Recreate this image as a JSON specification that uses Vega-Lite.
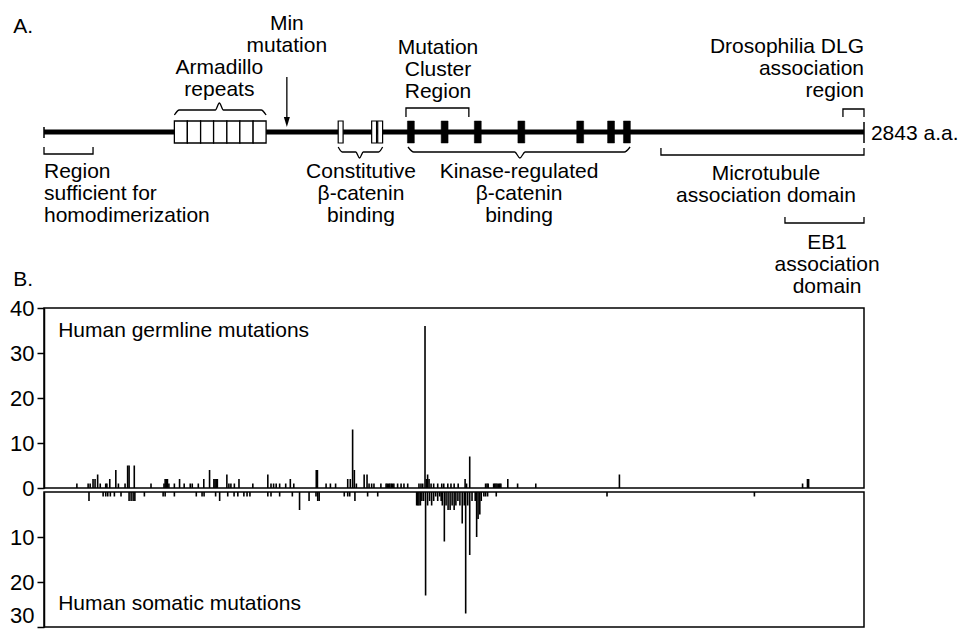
{
  "$schema": "https://vega.github.io/schema/vega-lite/v6.json",
  "width": 820,
  "height": 633,
  "autosize": {"type": "none"},
  "padding": {"left": 44, "top": 0, "right": 98, "bottom": 0},
  "background": "white",
  "config": {"view": {"stroke": null}},
  "datasets": {
    "protein": [{"start": 0, "end": 2843, "y": 132}],
    "ends": [{"pos": 0, "top": 127, "bottom": 138}, {"pos": 2843, "top": 122, "bottom": 143}],
    "armadillo": [
      {"start": 452, "end": 497, "top": 121, "bottom": 143},
      {"start": 497, "end": 543, "top": 121, "bottom": 143},
      {"start": 543, "end": 588, "top": 121, "bottom": 143},
      {"start": 588, "end": 634, "top": 121, "bottom": 143},
      {"start": 634, "end": 679, "top": 121, "bottom": 143},
      {"start": 679, "end": 725, "top": 121, "bottom": 143},
      {"start": 725, "end": 770, "top": 121, "bottom": 143}
    ],
    "repeats15": [
      {"start": 1020, "end": 1037, "top": 121, "bottom": 143},
      {"start": 1136, "end": 1153, "top": 121, "bottom": 143},
      {"start": 1157, "end": 1174, "top": 121, "bottom": 143}
    ],
    "repeats20": [
      {"start": 1260, "end": 1284, "top": 121, "bottom": 143},
      {"start": 1377, "end": 1401, "top": 121, "bottom": 143},
      {"start": 1492, "end": 1516, "top": 121, "bottom": 143},
      {"start": 1643, "end": 1667, "top": 121, "bottom": 143},
      {"start": 1847, "end": 1871, "top": 121, "bottom": 143},
      {"start": 1954, "end": 1978, "top": 121, "bottom": 143},
      {"start": 2009, "end": 2033, "top": 121, "bottom": 143}
    ],
    "minArrow": [{"pos": 842, "top": 77, "head": 122}],
    "brackets": [
      {"g": "homo", "o": 1, "pos": 0, "y": 147}, {"g": "homo", "o": 2, "pos": 0, "y": 154}, {"g": "homo", "o": 3, "pos": 170, "y": 154}, {"g": "homo", "o": 4, "pos": 170, "y": 147},
      {"g": "mcr", "o": 1, "pos": 1255, "y": 117}, {"g": "mcr", "o": 2, "pos": 1255, "y": 108}, {"g": "mcr", "o": 3, "pos": 1473, "y": 108}, {"g": "mcr", "o": 4, "pos": 1473, "y": 117},
      {"g": "dlg", "o": 1, "pos": 2770, "y": 117}, {"g": "dlg", "o": 2, "pos": 2770, "y": 109}, {"g": "dlg", "o": 3, "pos": 2843, "y": 109}, {"g": "dlg", "o": 4, "pos": 2843, "y": 117},
      {"g": "mt", "o": 1, "pos": 2139, "y": 148}, {"g": "mt", "o": 2, "pos": 2139, "y": 155}, {"g": "mt", "o": 3, "pos": 2843, "y": 155}, {"g": "mt", "o": 4, "pos": 2843, "y": 148},
      {"g": "eb1", "o": 1, "pos": 2569, "y": 217}, {"g": "eb1", "o": 2, "pos": 2569, "y": 223}, {"g": "eb1", "o": 3, "pos": 2843, "y": 223}, {"g": "eb1", "o": 4, "pos": 2843, "y": 217}
    ],
    "braces": [
      {"g": "arm", "o": 1, "pos": 452, "y": 115}, {"g": "arm", "o": 2, "pos": 469, "y": 110}, {"g": "arm", "o": 3, "pos": 594, "y": 110}, {"g": "arm", "o": 4, "pos": 608, "y": 103}, {"g": "arm", "o": 5, "pos": 622, "y": 110}, {"g": "arm", "o": 6, "pos": 753, "y": 110}, {"g": "arm", "o": 7, "pos": 770, "y": 115},
      {"g": "con", "o": 1, "pos": 1020, "y": 147}, {"g": "con", "o": 2, "pos": 1034, "y": 152}, {"g": "con", "o": 3, "pos": 1081, "y": 152}, {"g": "con", "o": 4, "pos": 1094, "y": 158}, {"g": "con", "o": 5, "pos": 1107, "y": 152}, {"g": "con", "o": 6, "pos": 1160, "y": 152}, {"g": "con", "o": 7, "pos": 1174, "y": 147},
      {"g": "kin", "o": 1, "pos": 1262, "y": 147}, {"g": "kin", "o": 2, "pos": 1282, "y": 152}, {"g": "kin", "o": 3, "pos": 1632, "y": 152}, {"g": "kin", "o": 4, "pos": 1650, "y": 158}, {"g": "kin", "o": 5, "pos": 1668, "y": 152}, {"g": "kin", "o": 6, "pos": 2012, "y": 152}, {"g": "kin", "o": 7, "pos": 2032, "y": 147}
    ],
    "labelsCenter": [
      {"label": "Min\nmutation", "pos": 842, "y": 30},
      {"label": "Armadillo\nrepeats", "pos": 608, "y": 74},
      {"label": "Mutation\nCluster\nRegion", "pos": 1366, "y": 54},
      {"label": "Constitutive\nβ-catenin\nbinding", "pos": 1099, "y": 178},
      {"label": "Kinase-regulated\nβ-catenin\nbinding", "pos": 1647, "y": 178},
      {"label": "Microtubule\nassociation domain", "pos": 2503, "y": 180},
      {"label": "EB1\nassociation\ndomain", "pos": 2715, "y": 249}
    ],
    "labelsLeft": [
      {"label": "A.", "pos": -107, "y": 33},
      {"label": "Region\nsufficient for\nhomodimerization", "pos": 0, "y": 178},
      {"label": "2843 a.a.", "pos": 2867, "y": 140},
      {"label": "B.", "pos": -107, "y": 286},
      {"label": "Human germline mutations", "pos": 49, "y": 337},
      {"label": "Human somatic mutations", "pos": 49, "y": 610}
    ],
    "labelsRight": [
      {"label": "Drosophilia DLG\nassociation\nregion", "pos": 2843, "y": 53}
    ],
    "germlineFrame": [{"start": 0, "end": 2843, "lo": 0, "hi": 40}],
    "somaticFrame": [{"start": 0, "end": 2843, "lo": 0, "hi": 30}],
    "germline": [
      {"pos": 114, "count": 1}, {"pos": 153, "count": 1}, {"pos": 160, "count": 1}, {"pos": 170, "count": 2}, {"pos": 177, "count": 2}, {"pos": 186, "count": 3}, {"pos": 195, "count": 1}, {"pos": 214, "count": 1}, {"pos": 218, "count": 1}, {"pos": 228, "count": 2}, {"pos": 249, "count": 4}, {"pos": 258, "count": 1}, {"pos": 281, "count": 1}, {"pos": 290, "count": 5}, {"pos": 295, "count": 5}, {"pos": 313, "count": 5}, {"pos": 371, "count": 1}, {"pos": 416, "count": 1}, {"pos": 420, "count": 2}, {"pos": 424, "count": 2}, {"pos": 428, "count": 2}, {"pos": 433, "count": 1}, {"pos": 452, "count": 1}, {"pos": 470, "count": 2}, {"pos": 486, "count": 1}, {"pos": 507, "count": 1}, {"pos": 514, "count": 1}, {"pos": 535, "count": 1}, {"pos": 554, "count": 2}, {"pos": 574, "count": 4}, {"pos": 589, "count": 2}, {"pos": 593, "count": 2}, {"pos": 597, "count": 2}, {"pos": 601, "count": 2}, {"pos": 634, "count": 3}, {"pos": 641, "count": 1}, {"pos": 648, "count": 1}, {"pos": 660, "count": 1}, {"pos": 676, "count": 2}, {"pos": 724, "count": 1}, {"pos": 776, "count": 3}, {"pos": 787, "count": 1}, {"pos": 796, "count": 1}, {"pos": 805, "count": 1}, {"pos": 817, "count": 1}, {"pos": 838, "count": 1}, {"pos": 854, "count": 2}, {"pos": 866, "count": 1}, {"pos": 944, "count": 4}, {"pos": 948, "count": 4}, {"pos": 978, "count": 1}, {"pos": 993, "count": 1}, {"pos": 1011, "count": 1}, {"pos": 1053, "count": 2}, {"pos": 1062, "count": 2}, {"pos": 1070, "count": 13}, {"pos": 1076, "count": 4}, {"pos": 1083, "count": 1}, {"pos": 1110, "count": 3}, {"pos": 1120, "count": 3}, {"pos": 1127, "count": 1}, {"pos": 1136, "count": 1}, {"pos": 1144, "count": 1}, {"pos": 1168, "count": 1}, {"pos": 1186, "count": 1}, {"pos": 1190, "count": 1}, {"pos": 1195, "count": 1}, {"pos": 1199, "count": 1}, {"pos": 1204, "count": 1}, {"pos": 1208, "count": 1}, {"pos": 1213, "count": 1}, {"pos": 1226, "count": 1}, {"pos": 1238, "count": 1}, {"pos": 1248, "count": 1}, {"pos": 1261, "count": 1}, {"pos": 1300, "count": 1}, {"pos": 1307, "count": 1}, {"pos": 1313, "count": 1}, {"pos": 1321, "count": 36}, {"pos": 1326, "count": 2}, {"pos": 1330, "count": 3}, {"pos": 1335, "count": 2}, {"pos": 1342, "count": 1}, {"pos": 1351, "count": 1}, {"pos": 1365, "count": 1}, {"pos": 1379, "count": 1}, {"pos": 1386, "count": 1}, {"pos": 1400, "count": 1}, {"pos": 1411, "count": 1}, {"pos": 1422, "count": 1}, {"pos": 1436, "count": 1}, {"pos": 1460, "count": 2}, {"pos": 1465, "count": 1}, {"pos": 1476, "count": 7}, {"pos": 1531, "count": 1}, {"pos": 1536, "count": 1}, {"pos": 1540, "count": 1}, {"pos": 1559, "count": 1}, {"pos": 1563, "count": 1}, {"pos": 1567, "count": 1}, {"pos": 1571, "count": 1}, {"pos": 1576, "count": 1}, {"pos": 1580, "count": 1}, {"pos": 1584, "count": 1}, {"pos": 1608, "count": 2}, {"pos": 1642, "count": 1}, {"pos": 1705, "count": 1}, {"pos": 1995, "count": 3}, {"pos": 2630, "count": 1}, {"pos": 2647, "count": 2}, {"pos": 2651, "count": 2}
    ],
    "somatic": [
      {"pos": 156, "count": 2}, {"pos": 205, "count": 1}, {"pos": 214, "count": 1}, {"pos": 221, "count": 1}, {"pos": 230, "count": 1}, {"pos": 244, "count": 1}, {"pos": 267, "count": 1}, {"pos": 295, "count": 2}, {"pos": 302, "count": 2}, {"pos": 309, "count": 2}, {"pos": 315, "count": 2}, {"pos": 348, "count": 1}, {"pos": 413, "count": 1}, {"pos": 420, "count": 1}, {"pos": 452, "count": 1}, {"pos": 528, "count": 1}, {"pos": 548, "count": 1}, {"pos": 555, "count": 1}, {"pos": 595, "count": 1}, {"pos": 609, "count": 2}, {"pos": 637, "count": 1}, {"pos": 659, "count": 1}, {"pos": 672, "count": 1}, {"pos": 693, "count": 1}, {"pos": 704, "count": 1}, {"pos": 714, "count": 1}, {"pos": 776, "count": 1}, {"pos": 787, "count": 1}, {"pos": 817, "count": 1}, {"pos": 861, "count": 1}, {"pos": 886, "count": 4}, {"pos": 919, "count": 2}, {"pos": 943, "count": 1}, {"pos": 949, "count": 2}, {"pos": 954, "count": 2}, {"pos": 1041, "count": 1}, {"pos": 1053, "count": 1}, {"pos": 1060, "count": 1}, {"pos": 1078, "count": 2}, {"pos": 1122, "count": 1}, {"pos": 1157, "count": 1}, {"pos": 1292, "count": 3}, {"pos": 1296, "count": 3}, {"pos": 1300, "count": 3}, {"pos": 1305, "count": 3}, {"pos": 1310, "count": 2}, {"pos": 1316, "count": 2}, {"pos": 1323, "count": 23}, {"pos": 1330, "count": 3}, {"pos": 1337, "count": 2}, {"pos": 1344, "count": 3}, {"pos": 1351, "count": 2}, {"pos": 1358, "count": 1}, {"pos": 1365, "count": 2}, {"pos": 1372, "count": 1}, {"pos": 1377, "count": 2}, {"pos": 1381, "count": 3}, {"pos": 1388, "count": 11}, {"pos": 1394, "count": 3}, {"pos": 1401, "count": 4}, {"pos": 1408, "count": 4}, {"pos": 1415, "count": 3}, {"pos": 1422, "count": 4}, {"pos": 1428, "count": 3}, {"pos": 1435, "count": 2}, {"pos": 1442, "count": 3}, {"pos": 1450, "count": 7}, {"pos": 1457, "count": 3}, {"pos": 1462, "count": 27}, {"pos": 1469, "count": 3}, {"pos": 1476, "count": 14}, {"pos": 1484, "count": 2}, {"pos": 1495, "count": 2}, {"pos": 1500, "count": 10}, {"pos": 1505, "count": 6}, {"pos": 1511, "count": 5}, {"pos": 1516, "count": 2}, {"pos": 1525, "count": 1}, {"pos": 1531, "count": 1}, {"pos": 1538, "count": 1}, {"pos": 1568, "count": 1}, {"pos": 1952, "count": 1}, {"pos": 2463, "count": 1}
    ]
  },
  "layer": [
    {
      "layer": [
        {
          "data": {"name": "protein"},
          "mark": {"type": "rule", "color": "black", "strokeWidth": 5},
          "encoding": {
            "x": {"field": "start", "type": "quantitative", "scale": {"domain": [0, 2843], "nice": false, "zero": false}, "axis": null},
            "x2": {"field": "end"},
            "y": {"field": "y", "type": "quantitative", "scale": {"domain": [0, 633], "range": [0, 633], "nice": false, "zero": false}, "axis": null}
          }
        },
        {
          "data": {"name": "ends"},
          "mark": {"type": "rule", "color": "black", "strokeWidth": 1.5},
          "encoding": {
            "x": {"field": "pos", "type": "quantitative", "scale": {"domain": [0, 2843], "nice": false, "zero": false}, "axis": null},
            "y": {"field": "top", "type": "quantitative", "scale": {"domain": [0, 633], "range": [0, 633], "nice": false, "zero": false}, "axis": null},
            "y2": {"field": "bottom"}
          }
        },
        {
          "data": {"name": "armadillo"},
          "mark": {"type": "rect", "fill": "white", "stroke": "black", "strokeWidth": 1.3},
          "encoding": {
            "x": {"field": "start", "type": "quantitative", "scale": {"domain": [0, 2843], "nice": false, "zero": false}, "axis": null},
            "x2": {"field": "end"},
            "y": {"field": "top", "type": "quantitative", "scale": {"domain": [0, 633], "range": [0, 633], "nice": false, "zero": false}, "axis": null},
            "y2": {"field": "bottom"}
          }
        },
        {
          "data": {"name": "repeats15"},
          "mark": {"type": "rect", "fill": "white", "stroke": "black", "strokeWidth": 1.2},
          "encoding": {
            "x": {"field": "start", "type": "quantitative", "scale": {"domain": [0, 2843], "nice": false, "zero": false}, "axis": null},
            "x2": {"field": "end"},
            "y": {"field": "top", "type": "quantitative", "scale": {"domain": [0, 633], "range": [0, 633], "nice": false, "zero": false}, "axis": null},
            "y2": {"field": "bottom"}
          }
        },
        {
          "data": {"name": "repeats20"},
          "mark": {"type": "rect", "fill": "black", "stroke": "black", "strokeWidth": 0.5},
          "encoding": {
            "x": {"field": "start", "type": "quantitative", "scale": {"domain": [0, 2843], "nice": false, "zero": false}, "axis": null},
            "x2": {"field": "end"},
            "y": {"field": "top", "type": "quantitative", "scale": {"domain": [0, 633], "range": [0, 633], "nice": false, "zero": false}, "axis": null},
            "y2": {"field": "bottom"}
          }
        },
        {
          "data": {"name": "minArrow"},
          "mark": {"type": "rule", "color": "black", "strokeWidth": 1.3},
          "encoding": {
            "x": {"field": "pos", "type": "quantitative", "scale": {"domain": [0, 2843], "nice": false, "zero": false}, "axis": null},
            "y": {"field": "top", "type": "quantitative", "scale": {"domain": [0, 633], "range": [0, 633], "nice": false, "zero": false}, "axis": null},
            "y2": {"field": "head"}
          }
        },
        {
          "data": {"name": "minArrow"},
          "mark": {"type": "point", "shape": "M-0.6,-1L0.6,-1L0,1Z", "size": 100, "filled": true, "color": "black", "opacity": 1},
          "encoding": {
            "x": {"field": "pos", "type": "quantitative", "scale": {"domain": [0, 2843], "nice": false, "zero": false}, "axis": null},
            "y": {"field": "head", "type": "quantitative", "scale": {"domain": [0, 633], "range": [0, 633], "nice": false, "zero": false}, "axis": null}
          }
        },
        {
          "data": {"name": "brackets"},
          "mark": {"type": "line", "color": "black", "strokeWidth": 1.3, "interpolate": "linear"},
          "encoding": {
            "x": {"field": "pos", "type": "quantitative", "scale": {"domain": [0, 2843], "nice": false, "zero": false}, "axis": null},
            "y": {"field": "y", "type": "quantitative", "scale": {"domain": [0, 633], "range": [0, 633], "nice": false, "zero": false}, "axis": null},
            "detail": {"field": "g", "type": "nominal"},
            "order": {"field": "o", "type": "quantitative"}
          }
        },
        {
          "data": {"name": "braces"},
          "mark": {"type": "line", "color": "black", "strokeWidth": 1.3, "interpolate": "monotone"},
          "encoding": {
            "x": {"field": "pos", "type": "quantitative", "scale": {"domain": [0, 2843], "nice": false, "zero": false}, "axis": null},
            "y": {"field": "y", "type": "quantitative", "scale": {"domain": [0, 633], "range": [0, 633], "nice": false, "zero": false}, "axis": null},
            "detail": {"field": "g", "type": "nominal"},
            "order": {"field": "o", "type": "quantitative"}
          }
        },
        {
          "data": {"name": "labelsCenter"},
          "mark": {"type": "text", "align": "center", "baseline": "alphabetic", "lineBreak": "\n", "lineHeight": 22, "font": "Liberation Sans", "fontSize": 21, "color": "black"},
          "encoding": {
            "x": {"field": "pos", "type": "quantitative", "scale": {"domain": [0, 2843], "nice": false, "zero": false}, "axis": null},
            "y": {"field": "y", "type": "quantitative", "scale": {"domain": [0, 633], "range": [0, 633], "nice": false, "zero": false}, "axis": null},
            "text": {"field": "label", "type": "nominal"}
          }
        },
        {
          "data": {"name": "labelsLeft"},
          "mark": {"type": "text", "align": "left", "baseline": "alphabetic", "lineBreak": "\n", "lineHeight": 22, "font": "Liberation Sans", "fontSize": 21, "color": "black"},
          "encoding": {
            "x": {"field": "pos", "type": "quantitative", "scale": {"domain": [0, 2843], "nice": false, "zero": false}, "axis": null},
            "y": {"field": "y", "type": "quantitative", "scale": {"domain": [0, 633], "range": [0, 633], "nice": false, "zero": false}, "axis": null},
            "text": {"field": "label", "type": "nominal"}
          }
        },
        {
          "data": {"name": "labelsRight"},
          "mark": {"type": "text", "align": "right", "baseline": "alphabetic", "lineBreak": "\n", "lineHeight": 22, "font": "Liberation Sans", "fontSize": 21, "color": "black"},
          "encoding": {
            "x": {"field": "pos", "type": "quantitative", "scale": {"domain": [0, 2843], "nice": false, "zero": false}, "axis": null},
            "y": {"field": "y", "type": "quantitative", "scale": {"domain": [0, 633], "range": [0, 633], "nice": false, "zero": false}, "axis": null},
            "text": {"field": "label", "type": "nominal"}
          }
        }
      ]
    },
    {
      "layer": [
        {
          "data": {"name": "germlineFrame"},
          "mark": {"type": "rect", "fillOpacity": 0, "stroke": "black", "strokeWidth": 1.5},
          "encoding": {
            "x": {"field": "start", "type": "quantitative", "scale": {"domain": [0, 2843], "nice": false, "zero": false}, "axis": null},
            "x2": {"field": "end"},
            "y": {"field": "hi", "type": "quantitative", "scale": {"domain": [0, 40], "range": [488, 308], "nice": false}, "axis": {"orient": "left", "values": [0, 10, 20, 30, 40], "title": null, "grid": false, "labelFont": "Liberation Sans", "labelFontSize": 22, "labelColor": "black", "labelPadding": 3, "labelOverlap": false, "labelFlush": false, "tickSize": 7, "tickWidth": 1.5, "tickColor": "black", "domainColor": "black", "domainWidth": 1.5}},
            "y2": {"field": "lo"}
          }
        },
        {
          "data": {"name": "germline"},
          "mark": {"type": "rule", "color": "black", "strokeWidth": 1.6},
          "encoding": {
            "x": {"field": "pos", "type": "quantitative", "scale": {"domain": [0, 2843], "nice": false, "zero": false}, "axis": null},
            "y": {"field": "count", "type": "quantitative", "scale": {"domain": [0, 40], "range": [488, 308], "nice": false}, "axis": {"orient": "left", "values": [0, 10, 20, 30, 40], "title": null, "grid": false, "labelFont": "Liberation Sans", "labelFontSize": 22, "labelColor": "black", "labelPadding": 3, "labelOverlap": false, "labelFlush": false, "tickSize": 7, "tickWidth": 1.5, "tickColor": "black", "domainColor": "black", "domainWidth": 1.5}},
            "y2": {"datum": 0}
          }
        }
      ]
    },
    {
      "layer": [
        {
          "data": {"name": "somaticFrame"},
          "mark": {"type": "rect", "fillOpacity": 0, "stroke": "black", "strokeWidth": 1.5},
          "encoding": {
            "x": {"field": "start", "type": "quantitative", "scale": {"domain": [0, 2843], "nice": false, "zero": false}, "axis": null},
            "x2": {"field": "end"},
            "y": {"field": "hi", "type": "quantitative", "scale": {"domain": [0, 30], "range": [492, 627], "nice": false}, "axis": {"orient": "left", "values": [10, 20, 30], "title": null, "grid": false, "labelFont": "Liberation Sans", "labelFontSize": 22, "labelColor": "black", "labelPadding": 3, "labelOverlap": false, "labelFlush": true, "tickSize": 7, "tickWidth": 1.5, "tickColor": "black", "domainColor": "black", "domainWidth": 1.5}},
            "y2": {"field": "lo"}
          }
        },
        {
          "data": {"name": "somatic"},
          "mark": {"type": "rule", "color": "black", "strokeWidth": 1.6},
          "encoding": {
            "x": {"field": "pos", "type": "quantitative", "scale": {"domain": [0, 2843], "nice": false, "zero": false}, "axis": null},
            "y": {"field": "count", "type": "quantitative", "scale": {"domain": [0, 30], "range": [492, 627], "nice": false}, "axis": {"orient": "left", "values": [10, 20, 30], "title": null, "grid": false, "labelFont": "Liberation Sans", "labelFontSize": 22, "labelColor": "black", "labelPadding": 3, "labelOverlap": false, "labelFlush": true, "tickSize": 7, "tickWidth": 1.5, "tickColor": "black", "domainColor": "black", "domainWidth": 1.5}},
            "y2": {"datum": 0}
          }
        }
      ]
    }
  ],
  "resolve": {"scale": {"y": "independent"}}
}
